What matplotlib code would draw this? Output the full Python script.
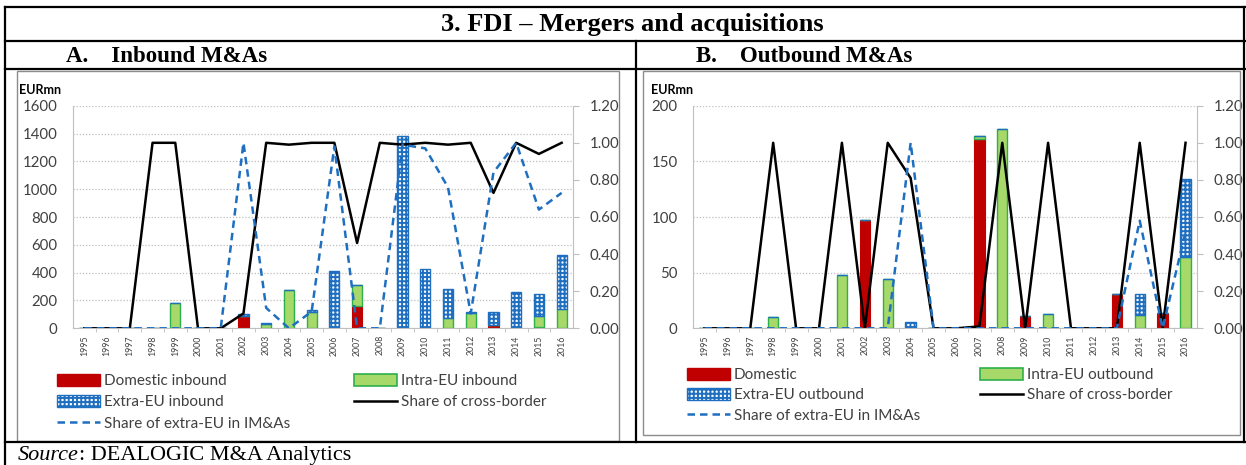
import matplotlib
matplotlib.use("Agg")
import matplotlib.pyplot as plt
from matplotlib.lines import Line2D
from matplotlib.patches import Patch, Rectangle
import numpy as np

years = [str(y) for y in range(1995, 2017)]

# panel A - inbound (EURmn)
dom_in = [0, 0, 0, 0, 0, 0, 0, 90, 0, 0, 0, 0, 160, 0, 0, 0, 0, 0, 24, 0, 12, 0]
intra_in = [0, 0, 0, 0, 185, 0, 0, 0, 30, 276, 118, 0, 150, 5, 10, 5, 72, 108, 0, 0, 77, 139]
extra_in = [0, 0, 0, 0, 0, 0, 0, 15, 11, 0, 14, 415, 0, 0, 1375, 419, 208, 12, 91, 261, 158, 388]
cross_in = [0, 0, 0, 1.0, 1.0, 0, 0, 0.08, 1.0, 0.99, 1.0, 1.0, 0.46, 1.0, 0.99, 1.0, 0.99, 1.0, 0.73, 1.0, 0.94, 1.0]
share_in = [0, 0, 0, 0, 0, 0, 0, 1.0, 0.11, 0, 0.09, 0.98, 0, 0, 0.99, 0.97, 0.76, 0.08, 0.84, 1.0, 0.64, 0.73]

# panel B - outbound (EURmn)
dom_out = [0, 0, 0, 0, 0, 0, 0, 97, 0, 0, 0, 0, 170, 0, 11, 0, 0, 0, 31, 0, 14, 0]
intra_out = [0, 0, 0, 10.5, 0, 0, 47.5, 0, 44, 0, 0, 0, 3, 179, 0, 13, 0, 0, 0, 12, 0, 64]
extra_out = [0, 0, 0, 0, 0, 0, 0, 0, 0, 5.5, 0, 0, 0, 0, 0, 0, 0, 0, 0, 19, 0, 70]
cross_out = [0, 0, 0, 1.0, 0, 0, 1.0, 0, 1.0, 0.81, 0, 0, 0.01, 1.0, 0, 1.0, 0, 0, 0, 1.0, 0, 1.0]
share_out = [0, 0, 0, 0, 0, 0, 0, 0, 0, 1.0, 0, 0, 0, 0, 0, 0, 0, 0, 0, 0.58, 0, 0.52]

W, H = 1246, 465
RED = "#C00000"
GREEN_F = "#A6D96A"
GREEN_E = "#2DB04B"
BLUE = "#1F6FC0"
TXT = "#404040"
SANS = "Lato"
SERIF = "Liberation Serif"

plt.rcParams["hatch.linewidth"] = 1.4


def fx(x):
    return x / W


def fy(y):
    return 1 - y / H


def hline(fig, x0, x1, y, lw=1.6, color="black"):
    fig.add_artist(Line2D([fx(x0), fx(x1)], [fy(y), fy(y)], lw=lw, color=color, transform=fig.transFigure))


def vline(fig, x, y0, y1, lw=1.6, color="black"):
    fig.add_artist(Line2D([fx(x), fx(x)], [fy(y0), fy(y1)], lw=lw, color=color, transform=fig.transFigure))


def draw_panel(fig, left, right, dom, intra, extra, cross, share, ymax, ystep):
    top, bottom = 105.7, 328.3
    ax = fig.add_axes([fx(left), fy(bottom), (right - left) / W, (bottom - top) / H])
    x = np.arange(len(years))
    dom = np.array(dom, dtype=float)
    intra = np.array(intra, dtype=float)
    extra = np.array(extra, dtype=float)
    bw = 0.45
    ax.bar(x, dom, bw, color=RED, edgecolor=RED, lw=0.8, zorder=2)
    ax.bar(x, intra, bw, bottom=dom, color=GREEN_F, edgecolor=GREEN_E, lw=1.0, zorder=2)
    ax.bar(x, extra, bw, bottom=dom + intra, color="white", edgecolor=BLUE, hatch="++++", lw=1.0, zorder=2)
    ax.set_xlim(-0.5, len(years) - 0.5)
    ax.set_ylim(0, ymax)
    ax.set_yticks(np.arange(0, ymax + 1, ystep))
    ax.yaxis.grid(True, color="#BFBFBF", ls=(0, (1, 1.5)), lw=0.9)
    ax.set_axisbelow(True)
    for s in ["top", "right"]:
        ax.spines[s].set_visible(False)
    ax.spines["left"].set_color("#BFBFBF")
    ax.spines["bottom"].set_color("#BFBFBF")
    ax.set_xticks(x)
    ax.set_xticklabels(years, rotation=90, fontsize=6.3, color=TXT, family=SANS)
    ax.set_xticks(x[:-1] + 0.5, minor=True)
    ax.tick_params(axis="x", which="major", length=0, pad=5)
    ax.tick_params(axis="x", which="minor", length=3, color="#BFBFBF")
    ax.tick_params(axis="y", length=0, pad=11, labelsize=10.8, labelcolor=TXT)
    for t in ax.get_yticklabels():
        t.set_family(SANS)

    ax2 = ax.twinx()
    ax2.set_ylim(0, 1.2)
    ax2.set_yticks(np.arange(0, 1.21, 0.2))
    ax2.set_yticklabels(["%.2f" % v for v in np.arange(0, 1.21, 0.2)], family=SANS)
    ax2.tick_params(axis="y", length=4, color="#BFBFBF", pad=8, labelsize=10.8, labelcolor=TXT)
    for s in ["top", "left", "bottom"]:
        ax2.spines[s].set_visible(False)
    ax2.spines["right"].set_color("#BFBFBF")
    ax2.plot(x, cross, color="black", lw=1.8, zorder=3)
    ax2.plot(x, share, color=BLUE, lw=1.8, dashes=(3, 2), zorder=3)
    return ax


fig = plt.figure(figsize=(W / 100, H / 100), dpi=100)

# table frame
hline(fig, 5, W, 7)
hline(fig, 5, W, 41)
hline(fig, 5, W, 69)
hline(fig, 5, W, 442)
vline(fig, 5, 7, 465)
vline(fig, 636, 41, 442)
vline(fig, W - 2, 7, 442)

fig.text(fx(632), fy(25), "3. FDI \u2013 Mergers and acquisitions", ha="center", va="center",
         family=SERIF, weight="bold", fontsize=19)
fig.text(fx(66), fy(56), "A.    Inbound M&As", ha="left", va="center", family=SERIF, weight="bold", fontsize=16.5)
fig.text(fx(696), fy(56), "B.    Outbound M&As", ha="left", va="center", family=SERIF, weight="bold", fontsize=16.5)

# inner chart boxes
fig.add_artist(Rectangle((fx(17), fy(441)), (619 - 17) / W, (441 - 71) / H, transform=fig.transFigure,
                         fill=False, edgecolor="#8C8C8C", lw=1))
fig.add_artist(Rectangle((fx(643), fy(435)), (1240 - 643) / W, (435 - 71) / H, transform=fig.transFigure,
                         fill=False, edgecolor="#8C8C8C", lw=1))

draw_panel(fig, 73, 573, dom_in, intra_in, extra_in, cross_in, share_in, 1600, 200)
draw_panel(fig, 693, 1197, dom_out, intra_out, extra_out, cross_out, share_out, 200, 50)

fig.text(fx(19), fy(96.5), "EURmn", family=SANS, weight="bold", fontsize=9, color="black", va="bottom")
fig.text(fx(651), fy(96.5), "EURmn", family=SANS, weight="bold", fontsize=9, color="black", va="bottom")


def add_legends(fig, labels, x1, x2, y_top, spacing):
    h_dom = Patch(facecolor=RED, edgecolor=RED)
    h_intra = Patch(facecolor=GREEN_F, edgecolor=GREEN_E, lw=1.2)
    h_extra = Patch(facecolor="white", edgecolor=BLUE, hatch="++++", lw=1.0)
    h_cross = Line2D([], [], color="black", lw=1.8)
    h_share = Line2D([], [], color=BLUE, lw=1.8, dashes=(3, 2))
    kw = dict(loc="upper left", frameon=False, borderpad=0, borderaxespad=0, handlelength=2.8,
              handleheight=0.8, handletextpad=0.25, labelspacing=spacing,
              prop={"family": SANS, "size": 11})
    l1 = fig.legend([h_dom, h_extra, h_share], [labels[0], labels[2], labels[4]],
                    bbox_to_anchor=(fx(x1), fy(y_top)), **kw)
    for t in l1.get_texts():
        t.set_color(TXT)
    l2 = fig.legend([h_intra, h_cross], [labels[1], labels[3]],
                    bbox_to_anchor=(fx(x2), fy(y_top)), **kw)
    for t in l2.get_texts():
        t.set_color(TXT)


add_legends(fig, ["Domestic inbound", "Intra-EU inbound", "Extra-EU inbound", "Share of cross-border",
                  "Share of extra-EU in IM&As"], 57, 354, 374, 0.46)
add_legends(fig, ["Domestic", "Intra-EU outbound", "Extra-EU outbound", "Share of cross-border",
                  "Share of extra-EU in IM&As"], 687, 980, 368, 0.4)

# source line, "Source" in italics
r = fig.canvas.get_renderer()
s1 = fig.text(fx(18), fy(446), "Source", family=SERIF, style="italic", fontsize=16, va="top")
bb = s1.get_window_extent(renderer=r)
fig.text(bb.x1 / W, fy(446), ": DEALOGIC M&A Analytics", family=SERIF, fontsize=16, va="top")

fig.savefig("out.png", dpi=100)
